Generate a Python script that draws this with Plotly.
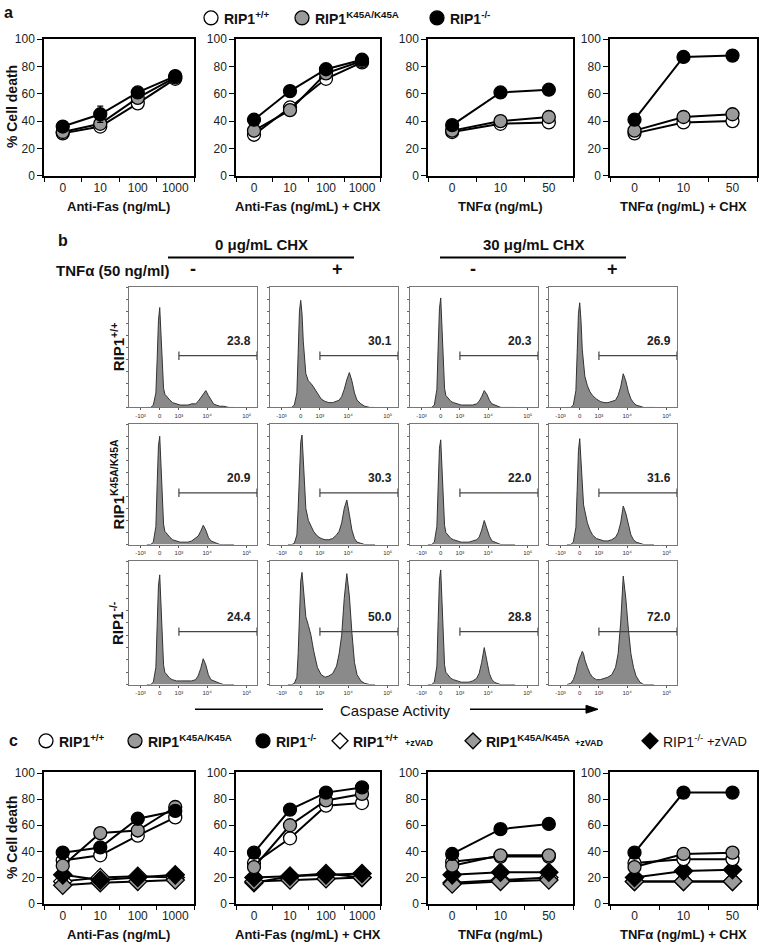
import plotly.graph_objects as go

W, H = 761, 952
FONT = "Liberation Sans, Arial, sans-serif"

# ---------------- data ----------------
FAS_DOSES = ["0", "10", "100", "1000"]
TNF_DOSES = ["0", "10", "50"]

# panel a  (% cell death)
A_FAS_WT = [31, 36, 53, 71]
A_FAS_K45A = [32, 38, 57, 72]
A_FAS_KO = [36, 45, 61, 73]
A_FAS_KO_ERR = [0, 6, 0, 0]
A_FASCHX_WT = [30, 50, 71, 83]
A_FASCHX_K45A = [33, 48, 75, 84]
A_FASCHX_KO = [41, 62, 78, 85]
A_TNF_WT = [32, 38, 39]
A_TNF_K45A = [33, 40, 43]
A_TNF_KO = [37, 61, 63]
A_TNFCHX_WT = [31, 39, 40]
A_TNFCHX_K45A = [33, 43, 45]
A_TNFCHX_KO = [41, 87, 88]

# panel c  (% cell death)
C_FAS_WT = [33, 37, 52, 66]
C_FAS_K45A = [29, 54, 56, 74]
C_FAS_KO = [39, 43, 65, 71]
C_FAS_KO_ERR = [0, 0, 3, 0]
C_FAS_WT_Z = [17, 20, 21, 20]
C_FAS_K45A_Z = [14, 16, 17, 18]
C_FAS_KO_Z = [22, 18, 20, 22]
C_FASCHX_WT = [31, 50, 75, 77]
C_FASCHX_K45A = [28, 60, 79, 84]
C_FASCHX_KO = [39, 72, 85, 89]
C_FASCHX_WT_Z = [16, 21, 23, 20]
C_FASCHX_K45A_Z = [17, 18, 19, 20]
C_FASCHX_KO_Z = [20, 21, 22, 23]
C_TNF_WT = [32, 36, 36]
C_TNF_K45A = [29, 37, 37]
C_TNF_KO = [38, 57, 61]
C_TNF_WT_Z = [16, 18, 20]
C_TNF_K45A_Z = [15, 17, 18]
C_TNF_KO_Z = [22, 24, 24]
C_TNFCHX_WT = [31, 34, 34]
C_TNFCHX_K45A = [28, 38, 39]
C_TNFCHX_K45A_ERR = [0, 3, 0]
C_TNFCHX_KO = [39, 85, 85]
C_TNFCHX_WT_Z = [17, 17, 17]
C_TNFCHX_K45A_Z = [17, 17, 17]
C_TNFCHX_KO_Z = [20, 25, 26]

# panel b  (caspase activity histograms, % of modal height along display channel)
HIST_X = [14, 17, 19, 21, 22, 23, 24, 25, 26, 27, 28, 30, 32, 34, 37, 40,
          43, 46, 49, 52, 54, 56, 58, 60, 62, 64, 66, 68, 71, 74, 78, 82]
H_WT_C0_NEG = [0, 0, 2, 12, 40, 72, 83, 60, 30, 16, 11, 8, 6, 4, 3, 2,
               2, 2, 3, 3, 5, 8, 12, 14, 10, 6, 3, 2, 1, 1, 0, 0]
H_WT_C0_POS = [0, 0, 2, 12, 45, 80, 89, 78, 55, 38, 28, 22, 20, 17, 12, 7,
               5, 4, 4, 5, 6, 9, 15, 23, 29, 22, 12, 6, 3, 1, 0, 0]
H_WT_C30_NEG = [0, 0, 2, 15, 50, 82, 91, 62, 30, 16, 10, 7, 5, 4, 3, 2,
                2, 2, 2, 3, 5, 9, 14, 11, 6, 3, 2, 1, 0, 0, 0, 0]
H_WT_C30_POS = [0, 0, 2, 14, 45, 78, 87, 72, 48, 34, 26, 18, 13, 10, 7, 5,
                4, 4, 5, 6, 10, 17, 28, 22, 13, 7, 4, 2, 1, 0, 0, 0]
H_K45A_C0_NEG = [0, 0, 2, 15, 50, 82, 90, 65, 32, 17, 11, 8, 6, 4, 3, 2,
                 2, 2, 3, 5, 7, 11, 16, 12, 6, 3, 2, 1, 0, 0, 0, 0]
H_K45A_C0_POS = [0, 0, 1, 8, 30, 65, 85, 91, 70, 45, 30, 20, 15, 11, 7, 5,
                 4, 4, 5, 8, 11, 18, 30, 37, 25, 12, 5, 2, 1, 0, 0, 0]
H_K45A_C30_NEG = [0, 0, 2, 15, 48, 80, 87, 62, 30, 16, 10, 7, 5, 4, 3, 2,
                  2, 2, 3, 4, 6, 12, 20, 14, 7, 3, 2, 1, 0, 0, 0, 0]
H_K45A_C30_POS = [0, 0, 2, 14, 45, 78, 88, 70, 45, 33, 28, 18, 12, 8, 5, 4,
                  3, 3, 4, 6, 10, 18, 32, 26, 16, 8, 4, 2, 1, 0, 0, 0]
H_KO_C0_NEG = [0, 0, 2, 14, 48, 80, 89, 62, 30, 16, 10, 7, 5, 4, 3, 3,
               3, 3, 3, 4, 7, 13, 21, 16, 8, 4, 3, 2, 1, 0, 0, 0]
H_KO_C0_POS = [0, 0, 1, 6, 25, 60, 84, 91, 80, 65, 55, 48, 40, 28, 14, 8,
               6, 7, 9, 15, 25, 40, 70, 90, 72, 42, 18, 8, 3, 1, 0, 0]
H_KO_C30_NEG = [0, 0, 2, 15, 52, 85, 93, 65, 30, 16, 10, 7, 5, 4, 3, 2,
                2, 2, 3, 5, 9, 18, 30, 20, 9, 4, 2, 1, 0, 0, 0, 0]
H_KO_C30_POS = [0, 1, 4, 10, 15, 19, 22, 24, 27, 25, 20, 14, 9, 6, 4, 4,
                5, 6, 8, 14, 25, 50, 88, 70, 45, 25, 14, 7, 2, 0, 0, 0]

PCT_WT = ["23.8", "30.1", "20.3", "26.9"]
PCT_K45A = ["20.9", "30.3", "22.0", "31.6"]
PCT_KO = ["24.4", "50.0", "28.8", "72.0"]

HIST_TICK_POS = [9, 24, 39, 61, 92]
HIST_TICK_TEXT = ["-10\u00b3", "0", "10\u00b3", "10\u2074", "10\u2075"]
GATE_FROM = 39   # 10^3 on the display channel
GATE_TO = 100

# ---------------- helpers ----------------
def fx(p):
    return p / W


def fy(p):
    return 1 - p / H


fig = go.Figure()
layout = {}
annotations = []
shapes = []
axis_count = [0]

WHITE, GREY, BLACK = "white", "#9a9a9a", "black"


def new_axes(x0, x1, y0, y1, xcfg, ycfg):
    axis_count[0] += 1
    i = axis_count[0]
    suf = "" if i == 1 else str(i)
    xcfg = dict(xcfg, domain=[fx(x0), fx(x1)], anchor="y" + suf)
    ycfg = dict(ycfg, domain=[fy(y1), fy(y0)], anchor="x" + suf)
    layout["xaxis" + suf] = xcfg
    layout["yaxis" + suf] = ycfg
    return "x" + suf, "y" + suf


def line_axes(x0, x1, y0, y1, cats, xtitle, ytitle):
    n = len(cats)
    idx = list(range(n))
    xcfg = dict(range=[-0.5, n - 0.5], tickmode="array", tickvals=idx, ticktext=cats,
                ticks="", showline=True, linecolor="black", linewidth=1.5, mirror=True,
                showgrid=False, zeroline=False,
                tickfont=dict(family=FONT, size=12, color="#222"),
                minor=dict(tickmode="array", tickvals=[i - 0.5 for i in range(n + 1)],
                           ticks="outside", ticklen=5, tickwidth=1.2, tickcolor="black",
                           showgrid=False))
    ycfg = dict(range=[0, 100.5], tickmode="array", tickvals=[0, 20, 40, 60, 80, 100],
                ticks="outside", ticklen=5, tickwidth=1.2, tickcolor="black",
                showline=True, linecolor="black", linewidth=1.5, mirror=True,
                showgrid=False, zeroline=False,
                tickfont=dict(family=FONT, size=12, color="#222"))
    xa, ya = new_axes(x0, x1, y0, y1, xcfg, ycfg)
    annotations.append(dict(x=fx((x0 + x1) / 2), y=fy(y1 + 31), xref="paper", yref="paper",
                            text="<b>" + xtitle + "</b>", showarrow=False,
                            xanchor="center", yanchor="middle",
                            font=dict(family=FONT, size=13, color="#111")))
    if ytitle:
        annotations.append(dict(x=fx(12), y=fy((y0 + y1) / 2), xref="paper", yref="paper",
                                text="<b>" + ytitle + "</b>", textangle=-90, showarrow=False,
                                xanchor="center", yanchor="middle",
                                font=dict(family=FONT, size=14, color="#111")))
    return xa, ya, idx


def add_series(xa, ya, idx, vals, fill, symbol="circle", err=None, size=13):
    tr = dict(x=idx, y=vals, xaxis=xa, yaxis=ya, mode="lines+markers",
              line=dict(color="black", width=2),
              marker=dict(symbol=symbol, size=size, color=fill,
                          line=dict(color="black", width=1.3)),
              showlegend=False, hoverinfo="skip")
    if err is not None:
        tr["error_y"] = dict(type="data", array=err, color="black",
                             thickness=1.3, width=3)
    fig.add_trace(go.Scatter(**tr))


# ---------------- panel a ----------------
ROW_A = (33, 172)
ROW_C = (777, 910)
COLS = [(44, 194), (236, 380), (428, 573), (610, 757)]

a_sets = [
    (FAS_DOSES, "Anti-Fas (ng/mL)", [(A_FAS_WT, WHITE, None), (A_FAS_K45A, GREY, None), (A_FAS_KO, BLACK, A_FAS_KO_ERR)]),
    (FAS_DOSES, "Anti-Fas (ng/mL) + CHX", [(A_FASCHX_WT, WHITE, None), (A_FASCHX_K45A, GREY, None), (A_FASCHX_KO, BLACK, None)]),
    (TNF_DOSES, "TNF\u03b1 (ng/mL)", [(A_TNF_WT, WHITE, None), (A_TNF_K45A, GREY, None), (A_TNF_KO, BLACK, None)]),
    (TNF_DOSES, "TNF\u03b1 (ng/mL) + CHX", [(A_TNFCHX_WT, WHITE, None), (A_TNFCHX_K45A, GREY, None), (A_TNFCHX_KO, BLACK, None)]),
]
for k, (cats, title, series) in enumerate(a_sets):
    xa, ya, idx = line_axes(COLS[k][0], COLS[k][1], ROW_A[0], ROW_A[1], cats, title,
                            "% Cell death" if k == 0 else None)
    for vals, fill, err in series:
        add_series(xa, ya, idx, vals, fill, err=err)

# ---------------- panel c ----------------
c_sets = [
    (FAS_DOSES, "Anti-Fas (ng/mL)",
     [(C_FAS_WT_Z, WHITE, "diamond", None), (C_FAS_K45A_Z, GREY, "diamond", None), (C_FAS_KO_Z, BLACK, "diamond", None),
      (C_FAS_WT, WHITE, "circle", None), (C_FAS_K45A, GREY, "circle", None), (C_FAS_KO, BLACK, "circle", C_FAS_KO_ERR)]),
    (FAS_DOSES, "Anti-Fas (ng/mL) + CHX",
     [(C_FASCHX_WT_Z, WHITE, "diamond", None), (C_FASCHX_K45A_Z, GREY, "diamond", None), (C_FASCHX_KO_Z, BLACK, "diamond", None),
      (C_FASCHX_WT, WHITE, "circle", None), (C_FASCHX_K45A, GREY, "circle", None), (C_FASCHX_KO, BLACK, "circle", None)]),
    (TNF_DOSES, "TNF\u03b1 (ng/mL)",
     [(C_TNF_WT_Z, WHITE, "diamond", None), (C_TNF_K45A_Z, GREY, "diamond", None), (C_TNF_KO_Z, BLACK, "diamond", None),
      (C_TNF_WT, WHITE, "circle", None), (C_TNF_K45A, GREY, "circle", None), (C_TNF_KO, BLACK, "circle", None)]),
    (TNF_DOSES, "TNF\u03b1 (ng/mL) + CHX",
     [(C_TNFCHX_WT_Z, WHITE, "diamond", None), (C_TNFCHX_K45A_Z, GREY, "diamond", None), (C_TNFCHX_KO_Z, BLACK, "diamond", None),
      (C_TNFCHX_WT, WHITE, "circle", None), (C_TNFCHX_K45A, GREY, "circle", C_TNFCHX_K45A_ERR), (C_TNFCHX_KO, BLACK, "circle", None)]),
]
for k, (cats, title, series) in enumerate(c_sets):
    xa, ya, idx = line_axes(COLS[k][0], COLS[k][1], ROW_C[0], ROW_C[1], cats, title,
                            "% Cell death" if k == 0 else None)
    for vals, fill, sym, err in series:
        add_series(xa, ya, idx, vals, fill, symbol=sym, err=err,
                   size=14 if sym == "diamond" else 13)

# ---------------- panel b ----------------
HCOLS = [(129, 257), (270, 398), (410, 538), (549, 677)]
HROWS = [(285, 407), (424, 546), (563, 688)]
hist_rows = [
    ([H_WT_C0_NEG, H_WT_C0_POS, H_WT_C30_NEG, H_WT_C30_POS], PCT_WT, "RIP1<sup>+/+</sup>"),
    ([H_K45A_C0_NEG, H_K45A_C0_POS, H_K45A_C30_NEG, H_K45A_C30_POS], PCT_K45A, "RIP1<sup>K45A/K45A</sup>"),
    ([H_KO_C0_NEG, H_KO_C0_POS, H_KO_C30_NEG, H_KO_C30_POS], PCT_KO, "RIP1<sup>-/-</sup>"),
]
for r, (hists, pcts, rlabel) in enumerate(hist_rows):
    y0, y1 = HROWS[r]
    for c, counts in enumerate(hists):
        x0, x1 = HCOLS[c]
        xcfg = dict(range=[0, 100], showline=True, linecolor="#777", linewidth=1, mirror=True,
                    tickmode="array", tickvals=HIST_TICK_POS, ticktext=HIST_TICK_TEXT,
                    ticks="outside", ticklen=2, tickcolor="#555",
                    tickfont=dict(family=FONT, size=6, color="#333"),
                    showgrid=False, zeroline=False)
        ycfg = dict(range=[0, 100], showline=True, linecolor="#777", linewidth=1, mirror=True,
                    tickmode="array", tickvals=[0, 10, 20, 30, 40, 50, 60, 70, 80, 90, 100],
                    ticks="outside", ticklen=2, tickcolor="#666",
                    showticklabels=False, showgrid=False, zeroline=False)
        xa, ya = new_axes(x0, x1, y0, y1, xcfg, ycfg)
        fig.add_trace(go.Scatter(x=HIST_X, y=counts, xaxis=xa, yaxis=ya, mode="lines",
                                 fill="tozeroy", fillcolor="#8a8a8a",
                                 line=dict(color="#333", width=1),
                                 showlegend=False, hoverinfo="skip"))
        fig.add_trace(go.Scatter(x=[GATE_FROM, GATE_TO], y=[43, 43], xaxis=xa, yaxis=ya,
                                 mode="lines+markers", line=dict(color="#444", width=1.2),
                                 marker=dict(symbol="line-ns", size=6,
                                             line=dict(color="#444", width=1.2)),
                                 showlegend=False, hoverinfo="skip"))
        annotations.append(dict(x=97, y=55, xref=xa, yref=ya, text="<b>" + pcts[c] + "</b>",
                                showarrow=False, xanchor="right", yanchor="middle",
                                font=dict(family=FONT, size=12, color="#222")))
    annotations.append(dict(x=fx(117), y=fy((y0 + y1) / 2), xref="paper", yref="paper",
                            text="<b>" + rlabel + "</b>", textangle=-90, showarrow=False,
                            xanchor="center", yanchor="middle",
                            font=dict(family=FONT, size=15, color="#111")))

# ---------------- legend keys (drawn as shapes + text) ----------------
def key(mx, my, fill, symbol, label, tail=None, tail_bold=True, size=14):
    r = 7
    if symbol == "circle":
        shapes.append(dict(type="circle", xref="paper", yref="paper",
                           x0=fx(mx - r), x1=fx(mx + r), y0=fy(my + r), y1=fy(my - r),
                           fillcolor=fill, line=dict(color="black", width=1.3)))
    else:
        path = "M {:.5f},{:.5f} L {:.5f},{:.5f} L {:.5f},{:.5f} L {:.5f},{:.5f} Z".format(
            fx(mx), fy(my - r - 1), fx(mx + r + 1), fy(my), fx(mx), fy(my + r + 1), fx(mx - r - 1), fy(my))
        shapes.append(dict(type="path", xref="paper", yref="paper", path=path,
                           fillcolor=fill, line=dict(color="black", width=1.3)))
    annotations.append(dict(x=fx(mx + 11), y=fy(my), xref="paper", yref="paper",
                            text=label, showarrow=False, xanchor="left", yanchor="middle",
                            font=dict(family=FONT, size=size, color="#111")))
    if tail is not None:
        tx, ttxt = tail
        annotations.append(dict(x=fx(tx), y=fy(my + (2 if tail_bold else 1)), xref="paper", yref="paper",
                                text=("<b>" + ttxt + "</b>") if tail_bold else ttxt,
                                showarrow=False, xanchor="left", yanchor="middle",
                                font=dict(family=FONT, size=9 if tail_bold else 13, color="#111")))

key(211, 12, WHITE, "circle", "<b>RIP1<sup>+/+</sup></b>")
key(302, 12, GREY, "circle", "<b>RIP1<sup>K45A/K45A</sup></b>")
key(437, 12, BLACK, "circle", "<b>RIP1<sup>-/-</sup></b>")
key(46, 745, WHITE, "circle", "<b>RIP1<sup>+/+</sup></b>")
key(135, 745, GREY, "circle", "<b>RIP1<sup>K45A/K45A</sup></b>")
key(263, 745, BLACK, "circle", "<b>RIP1<sup>-/-</sup></b>")
key(340, 745, WHITE, "diamond", "<b>RIP1<sup>+/+</sup></b>", (403, "+zVAD"))
key(473, 745, GREY, "diamond", "<b>RIP1<sup>K45A/K45A</sup></b>", (573, "+zVAD"))
key(650, 745, BLACK, "diamond", "RIP1<sup>-/-</sup>", (705, "+zVAD"), tail_bold=False, size=14)

# ---------------- texts & decorations ----------------
def txt(x, y, s, size=14, anchor="center", bold=True, color="#111"):
    annotations.append(dict(x=fx(x), y=fy(y), xref="paper", yref="paper",
                            text=("<b>" + s + "</b>") if bold else s, showarrow=False,
                            xanchor=anchor, yanchor="middle",
                            font=dict(family=FONT, size=size, color=color)))

txt(2, 7, "a", 16, "left")
txt(56, 238, "b", 16, "left")
txt(7, 745, "c", 16, "left")
txt(261, 242, "0 \u03bcg/mL CHX", 15)
txt(533, 242, "30 \u03bcg/mL CHX", 15)
txt(54, 268, "TNF\u03b1 (50 ng/ml)", 15, "left")
for xs, sign in zip([193, 337, 473, 612], ["-", "+", "-", "+"]):
    txt(xs, 267, sign, 18)
txt(395, 714, "Caspase Activity", 15, bold=False)

for (lx0, lx1) in [(168, 354), (440, 626)]:
    shapes.append(dict(type="line", xref="paper", yref="paper", x0=fx(lx0), x1=fx(lx1),
                       y0=fy(255), y1=fy(255), line=dict(color="black", width=2)))
shapes.append(dict(type="line", xref="paper", yref="paper", x0=fx(195), x1=fx(323),
                   y0=fy(713), y1=fy(713), line=dict(color="black", width=1.3)))
shapes.append(dict(type="line", xref="paper", yref="paper", x0=fx(470), x1=fx(588),
                   y0=fy(713), y1=fy(713), line=dict(color="black", width=1.3)))
shapes.append(dict(type="path", xref="paper", yref="paper",
                   path="M {:.5f},{:.5f} L {:.5f},{:.5f} L {:.5f},{:.5f} Z".format(
                       fx(598), fy(713), fx(586), fy(709), fx(586), fy(717)),
                   fillcolor="black", line=dict(color="black", width=1)))

fig.update_layout(**layout)
fig.update_layout(width=W, height=H, margin=dict(l=0, r=0, t=0, b=0),
                  paper_bgcolor="white", plot_bgcolor="white", showlegend=False,
                  annotations=annotations, shapes=shapes,
                  font=dict(family=FONT, color="#111"))

fig.write_html("out.html", config={"displayModeBar": False},
               post_script="document.body.style.margin='0px';")
